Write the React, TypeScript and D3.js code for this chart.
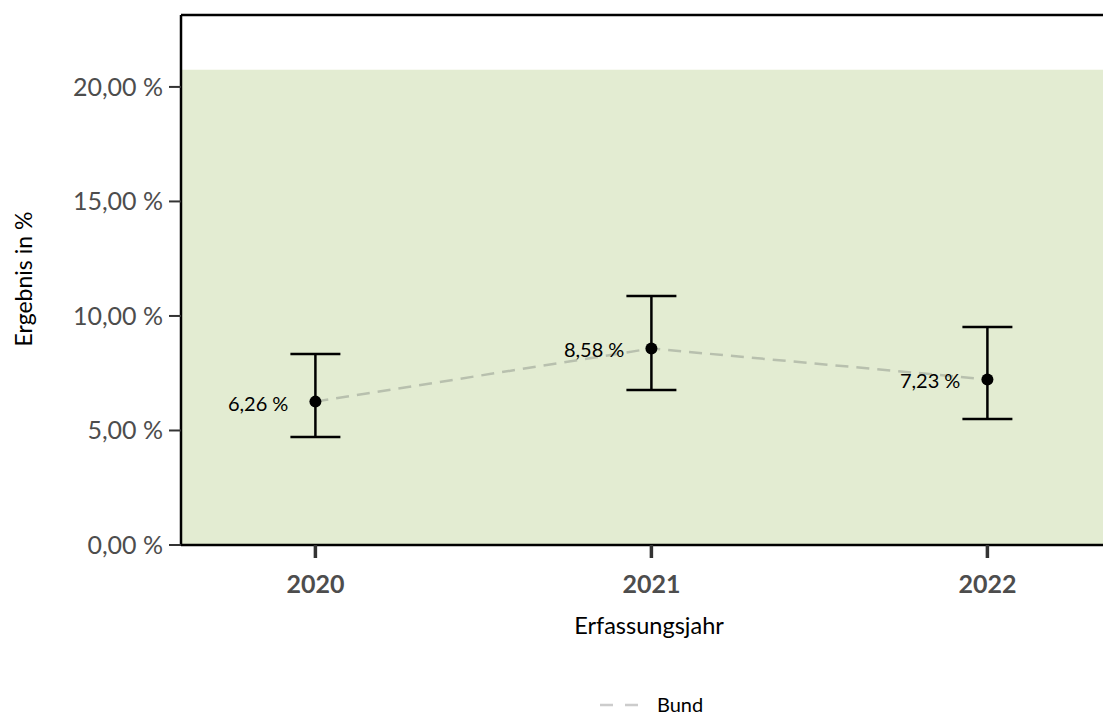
import * as d3 from "d3";

const years = [2020, 2021, 2022];
const values = [6.26, 8.58, 7.23];
const lower = [4.72, 6.77, 5.5];
const upper = [8.34, 10.87, 9.52];
const valueLabels = ["6,26 %", "8,58 %", "7,23 %"];
const yTicks = [0, 5, 10, 15, 20];
const bandTop = 20.75;

const W = 1103;
const H = 716;
const left = 181;
const top = 15;
const bottom = 545;

export default function App() {
  const x = d3.scaleLinear().domain([2019.6, 2022.4]).range([left, left + 336 * 2.8]);
  const y = d3.scaleLinear().domain([0, 23.14]).range([bottom, top]);
  const line = d3
    .line<number>()
    .x((_, i) => x(years[i]))
    .y((d) => y(d));
  const fmt = (v: number) => d3.format(".2f")(v).replace(".", ",") + " %";
  const font = "Lato, 'Open Sans', sans-serif";

  return (
    <svg
      width={W}
      height={H}
      style={{ position: "absolute", left: 0, top: 0, fontFamily: font }}
    >
      <rect x={left} y={y(bandTop)} width={W - left} height={bottom - y(bandTop)} fill="#e3ecd2" />

      {/* frame */}
      <line x1={left} x2={W} y1={top} y2={top} stroke="#000" strokeWidth={2.5} />
      <line x1={left} x2={left} y1={top} y2={bottom} stroke="#000" strokeWidth={2.5} />
      <line x1={left} x2={W} y1={bottom} y2={bottom} stroke="#000" strokeWidth={2.5} />

      {/* y axis */}
      {yTicks.map((t) => (
        <g key={t}>
          <line x1={169} x2={left} y1={y(t)} y2={y(t)} stroke="#333" strokeWidth={2} />
          <text x={163} y={y(t)} dy="0.35em" textAnchor="end" fontSize={25} fill="#4d4d4d">
            {fmt(t)}
          </text>
        </g>
      ))}
      <text
        transform={`translate(32,${(210 + 348) / 2}) rotate(-90)`}
        textAnchor="middle"
        fontSize={23}
        fill="#000"
      >
        Ergebnis in %
      </text>

      {/* x axis */}
      {years.map((yr) => (
        <g key={yr}>
          <line x1={x(yr)} x2={x(yr)} y1={bottom} y2={bottom + 13} stroke="#333" strokeWidth={3.5} />
          <text x={x(yr)} y={593} textAnchor="middle" fontSize={25} fontWeight="bold" fill="#4d4d4d">
            {yr}
          </text>
        </g>
      ))}
      <text x={649} y={634} textAnchor="middle" fontSize={23.5} fill="#000">
        Erfassungsjahr
      </text>

      {/* Bund line */}
      <path
        d={line(values) ?? ""}
        fill="none"
        stroke="#b8c0ae"
        strokeWidth={2.5}
        strokeDasharray="13,8"
      />

      {/* error bars */}
      {years.map((yr, i) => (
        <g key={yr} stroke="#000" strokeWidth={2.5}>
          <line x1={x(yr)} x2={x(yr)} y1={y(upper[i])} y2={y(lower[i])} />
          <line x1={x(yr) - 25} x2={x(yr) + 25} y1={y(upper[i])} y2={y(upper[i])} />
          <line x1={x(yr) - 25} x2={x(yr) + 25} y1={y(lower[i])} y2={y(lower[i])} />
          <circle cx={x(yr)} cy={y(values[i])} r={6} fill="#000" stroke="none" />
          <text
            x={x(yr) - 27}
            y={y(values[i]) + 2}
            dy="0.35em"
            textAnchor="end"
            fontSize={20}
            fill="#000"
            stroke="none"
          >
            {valueLabels[i]}
          </text>
        </g>
      ))}

      {/* legend */}
      <line x1={600} x2={638} y1={705} y2={705} stroke="#cccccc" strokeWidth={2.5} strokeDasharray="13,12" />
      <text x={657} y={705} dy="0.35em" fontSize={20} fill="#000">
        Bund
      </text>
    </svg>
  );
}
